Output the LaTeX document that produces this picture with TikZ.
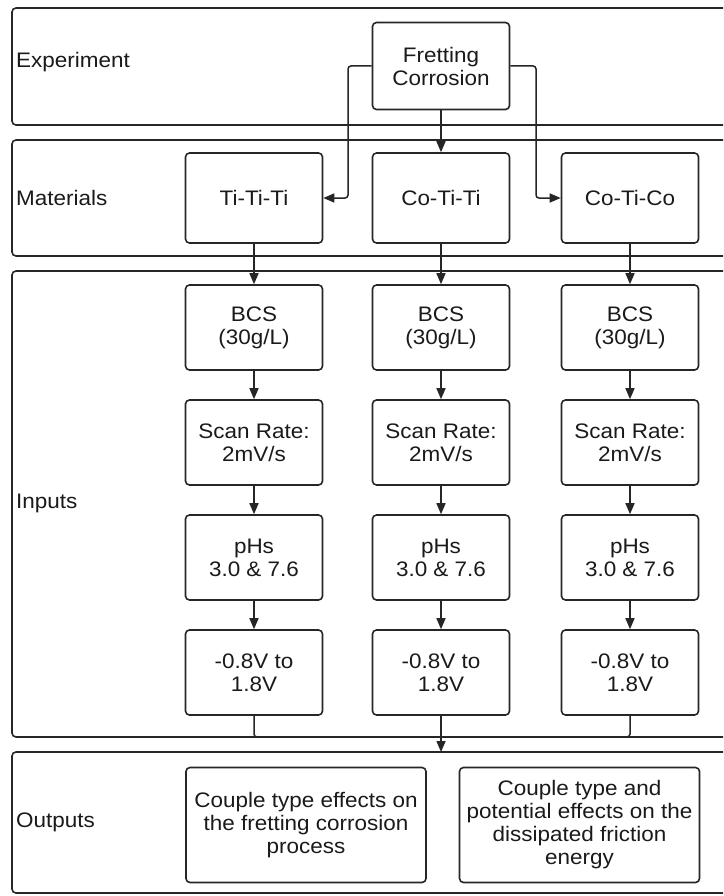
\documentclass[tikz,border=0pt]{standalone}
\usepackage{fontspec}
\setmainfont[FakeStretch=1.07]{Liberation Sans}
\usetikzlibrary{arrows.meta,calc}
\definecolor{ln}{HTML}{262626}
\definecolor{tx}{HTML}{1A1A1A}
\tikzset{
  lane/.style={draw=ln,line width=1.6pt,rounded corners=4pt},
  box/.style={draw=ln,line width=1.6pt,rounded corners=4pt,minimum width=137pt,minimum height=87pt,align=center,text=tx,inner sep=1pt,font=\fontsize{21}{23}\selectfont},
  lbl/.style={anchor=west,text=tx,inner sep=0pt,font=\fontsize{21}{23}\selectfont},
  conn/.style={draw=ln,line width=1.5pt,rounded corners=3pt},
  arr/.style={conn,-{Triangle[length=11pt,width=9pt]}}
}
\begin{document}
\begin{tikzpicture}[x=1pt,y=-1pt]
\useasboundingbox (0,0) rectangle (723,896);
\clip (0,0) rectangle (723,896);
\fill[white] (0,0) rectangle (723,896);
% lanes
\draw[lane] (12,8) rectangle (745,125);
\draw[lane] (12,140) rectangle (745,256);
\draw[lane] (12,271) rectangle (745,737);
\draw[lane] (12,752) rectangle (745,893);
\node[lbl] (lexp) at (16,62) {Experiment};
\node[lbl] (lmat) at (16,198) {Materials};
\node[lbl] (linp) at (16,503) {Inputs};
\node[lbl] (lout) at (16,822) {Outputs};
% experiment
\node[box] (fret) at (441,66) {Fretting\\Corrosion};
% materials
\node[box,minimum height=90pt] (m1) at (254,198) {Ti-Ti-Ti};
\node[box,minimum height=90pt] (m2) at (441,198) {Co-Ti-Ti};
\node[box,minimum height=90pt] (m3) at (630,198) {Co-Ti-Co};
% inputs
\foreach \c/\x in {1/254,2/441,3/630}{
  \node[box,minimum height=85pt] (b\c) at (\x,327.5) {BCS\\(30g/L)};
  \node[box,minimum height=85pt] (s\c) at (\x,442.5) {Scan Rate:\\2mV/s};
  \node[box,minimum height=85pt] (p\c) at (\x,557.5) {pHs\\3.0 \& 7.6};
  \node[box,minimum height=85pt] (v\c) at (\x,672.5) {-0.8V to\\1.8V};
}
% outputs
\node[box,minimum width=240pt,minimum height=115pt] (o1) at (306,825) {Couple type effects on\\the fretting corrosion\\process};
\node[box,minimum width=240pt,minimum height=115pt] (o2) at (579.5,825) {Couple type and\\potential effects on the\\dissipated friction\\energy};
% connectors
\coordinate (jl) at (348,66);
\coordinate (jr) at (536,66);
\draw[arr] (fret.west) -- (jl) |- (m1.east);
\draw[arr] (fret.east) -- (jr) |- (m3.west);
\draw[arr] (fret.south) -- (m2.north);
\foreach \c in {1,2,3}{
  \draw[arr] (m\c.south) -- (b\c.north);
  \draw[arr] (b\c.south) -- (s\c.north);
  \draw[arr] (s\c.south) -- (p\c.north);
  \draw[arr] (p\c.south) -- (v\c.north);
}
\coordinate (merge) at (441,737);
\coordinate (outtop) at (441,752);
\draw[conn] (v1.south) |- (merge);
\draw[conn] (v3.south) |- (merge);
\draw[arr] (v2.south) -- (outtop);
\end{tikzpicture}
\end{document}
